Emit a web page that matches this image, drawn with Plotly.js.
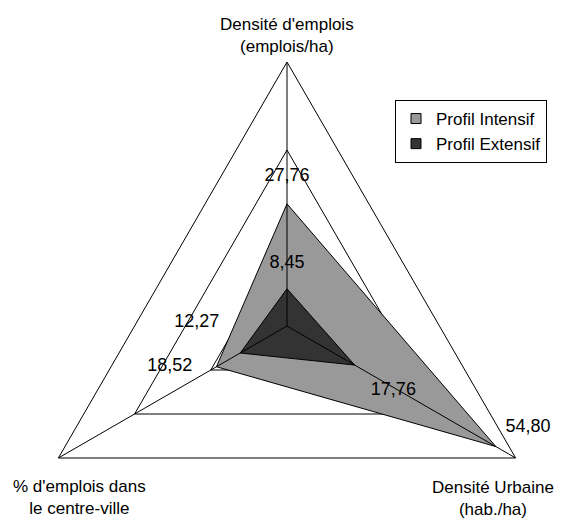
<!DOCTYPE html>
<html>
<head>
<meta charset="utf-8">
<script src="https://cdn.plot.ly/plotly-3.0.1.min.js"></script>
<style>
html, body { margin: 0; padding: 0; overflow: hidden; background: #ffffff; }
#chart { width: 566px; height: 600px; }
</style>
</head>
<body>
<div id="chart"></div>
<script>
// ---- data ----
var categories = ["Densité d'emplois", "Densité Urbaine", "% d'emplois dans le centre-ville"];
var categoryLabels = ["Densité d'emplois<br>(emplois/ha)", "Densité Urbaine<br>(hab./ha)", "% d'emplois dans<br>le centre-ville"];
var seriesNames = ["Profil Intensif", "Profil Extensif"];
var intensif = [27.76, 54.80, 18.52];
var extensif = [8.45, 17.76, 12.27];
var axisMax = 60;
var axisStep = 20;

function fmt(v) { return v.toFixed(2).replace('.', ','); }

// ---- geometry of the page (paper) ----
var W = 566, H = 600;
var M = {l: 23, r: 15, t: 62, b: 10};
var PW = W - M.l - M.r, PH = H - M.t - M.b;
function px2x(x) { return (x - M.l) / PW; }
function px2y(y) { return 1 - (y - M.t) / PH; }

var FONT = 'Liberation Sans, Arial, sans-serif';

// spokes drawn on top of the fills
var spokeR = [], spokeT = [];
categories.forEach(function (c) {
  spokeR.push(0, axisMax, null);
  spokeT.push(c, c, c);
});

var traces = [
  {
    type: 'scatterpolar',
    name: seriesNames[0],
    r: intensif.concat([intensif[0]]),
    theta: categories.concat([categories[0]]),
    mode: 'lines+markers+text',
    fill: 'toself',
    fillcolor: '#999999',
    line: {color: '#000000', width: 1},
    marker: {size: [27, 14, 37, 27], opacity: 0, color: '#999999'},
    text: intensif.map(fmt).concat(['']),
    textposition: ['top center', 'top right', 'middle left', 'top center'],
    textfont: {family: FONT, size: 18, color: '#000000'},
    cliponaxis: false,
    showlegend: false,
    hoverinfo: 'skip'
  },
  {
    type: 'scatterpolar',
    name: seriesNames[1],
    r: extensif.concat([extensif[0]]),
    theta: categories.concat([categories[0]]),
    mode: 'lines+markers+text',
    fill: 'toself',
    fillcolor: '#333333',
    line: {color: '#000000', width: 1},
    marker: {size: [24.4, 24.3, 32, 24.4], opacity: 0, color: '#333333'},
    text: extensif.map(fmt).concat(['']),
    textposition: ['top center', 'bottom right', 'top left', 'top center'],
    textfont: {family: FONT, size: 18, color: '#000000'},
    cliponaxis: false,
    showlegend: false,
    hoverinfo: 'skip'
  },
  {
    type: 'scatterpolar',
    r: spokeR,
    theta: spokeT,
    mode: 'lines',
    line: {color: '#000000', width: 1},
    connectgaps: false,
    showlegend: false,
    hoverinfo: 'skip'
  },
  {
    type: 'scatterpolar',
    name: seriesNames[0],
    r: [null], theta: [categories[0]],
    mode: 'markers',
    marker: {symbol: 'square', size: 10, color: '#999999', line: {color: '#000000', width: 1}},
    showlegend: true,
    hoverinfo: 'skip'
  },
  {
    type: 'scatterpolar',
    name: seriesNames[1],
    r: [null], theta: [categories[0]],
    mode: 'markers',
    marker: {symbol: 'square', size: 10, color: '#333333', line: {color: '#000000', width: 1}},
    showlegend: true,
    hoverinfo: 'skip'
  }
];

var labelPos = [
  {x: 287, y: 35},
  {x: 493, y: 498},
  {x: 79, y: 497}
];

var annotations = categoryLabels.map(function (t, i) {
  return {
    text: t,
    xref: 'paper', yref: 'paper',
    x: px2x(labelPos[i].x), y: px2y(labelPos[i].y),
    xanchor: 'center', yanchor: 'middle',
    align: 'center',
    showarrow: false,
    font: {family: FONT, size: 17, color: '#000000'}
  };
});

var layout = {
  width: W, height: H,
  margin: M,
  paper_bgcolor: '#ffffff',
  font: {family: FONT, size: 17, color: '#000000'},
  showlegend: true,
  legend: {
    x: px2x(547), y: px2y(100),
    xanchor: 'right', yanchor: 'top',
    bgcolor: '#ffffff',
    bordercolor: '#000000',
    borderwidth: 1,
    font: {family: FONT, size: 17, color: '#000000'}
  },
  polar: {
    domain: {x: [0, 1], y: [0, 1]},
    bgcolor: '#ffffff',
    gridshape: 'linear',
    radialaxis: {
      range: [0, axisMax],
      dtick: axisStep,
      tick0: 0,
      showgrid: true,
      gridcolor: '#000000',
      gridwidth: 1,
      showticklabels: false,
      ticks: '',
      showline: false,
      layer: 'below traces'
    },
    angularaxis: {
      type: 'category',
      categoryarray: categories,
      rotation: 90,
      direction: 'clockwise',
      showgrid: false,
      showline: true,
      linecolor: '#000000',
      linewidth: 1,
      showticklabels: false,
      ticks: '',
      layer: 'above traces'
    }
  },
  annotations: annotations,
  hovermode: false
};

Plotly.newPlot('chart', traces, layout, {displayModeBar: false, staticPlot: true});
</script>
</body>
</html>
